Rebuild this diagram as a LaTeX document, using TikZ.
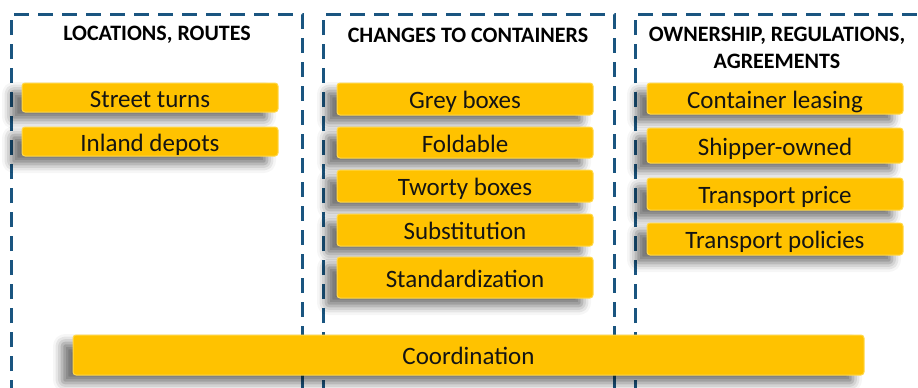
\documentclass[tikz,border=0pt]{standalone}
\usepackage{fontspec}
\setmainfont{Carlito}
\usetikzlibrary{shadows.blur}

\definecolor{frameblue}{HTML}{1A5580}
\definecolor{boxyellow}{HTML}{FFC200}
\definecolor{boxedge}{HTML}{FFD84A}

\tikzset{
  frame/.style={frameblue, line width=3pt, dash pattern=on 15pt off 9pt},
  headtxt/.style={font=\bfseries\fontsize{22}{27}\selectfont, align=center, inner sep=0pt},
  ybox/.style={fill=boxyellow, draw=boxedge, line width=1pt, rounded corners=3pt,
    minimum width=256pt, minimum height=#1, inner sep=0pt, text=black!92,
    font=\fontsize{25}{28}\selectfont, text height=19pt, text depth=0pt,
    blur shadow={shadow xshift=-11pt, shadow yshift=-8pt, shadow blur radius=9pt, shadow opacity=55}},
  ybox/.default=32pt
}

\begin{document}
\begin{tikzpicture}[x=1pt,y=-1pt]
\useasboundingbox (0,0) rectangle (918,388);

% Frames
\draw[frame] (11,395) -- (11,14) -- (302,14) -- (302,395);
\draw[frame] (323,395) -- (323,14) -- (614,14) -- (614,395);
\draw[frame] (635,395) -- (635,14) -- (930,14);

% Headings
\node[headtxt] (hloc) at (157,35) {LOCATIONS, ROUTES};
\node[headtxt] (hchg) at (468,35) {CHANGES TO CONTAINERS};
\node[headtxt] (hown) at (777,48) {OWNERSHIP, REGULATIONS,\\AGREEMENTS};

% Locations, routes
\node[ybox=29pt] (street) at (150,97.5) {Street turns};
\node[ybox=29pt] (inland) at (150,141.5) {Inland depots};

% Changes to containers
\node[ybox] (grey) at (465,99) {Grey boxes};
\node[ybox=31pt] (fold) at (465,142.5) {Foldable};
\node[ybox] (tworty) at (465,186) {Tworty boxes};
\node[ybox] (subst) at (465,230) {Substitution};
\node[ybox=41pt] (stand) at (465,277.5) {Standardization};

% Ownership, regulations, agreements
\node[ybox=31pt] (leasing) at (775,98.5) {Container leasing};
\node[ybox=35pt] (shipper) at (775,145.5) {Shipper-owned};
\node[ybox] (tprice) at (775,194) {Transport price};
\node[ybox] (tpolicy) at (775,239) {Transport policies};

\node[ybox=40pt, minimum width=791pt] (coord) at (468.5,355) {Coordination};
\end{tikzpicture}
\end{document}
